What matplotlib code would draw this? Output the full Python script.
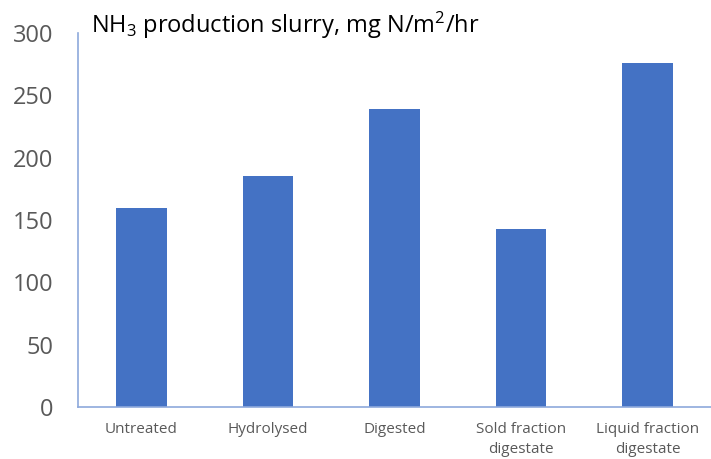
import matplotlib
matplotlib.use('Agg')
import matplotlib.pyplot as plt
import numpy as np

#data
categories = ['Untreated', 'Hydrolysed', 'Digested', 'Sold fraction\ndigestate', 'Liquid fraction\ndigestate']
nh3_values = [160, 185, 239, 143, 276]
yticks = [0, 50, 100, 150, 200, 250, 300]

plt.rcParams['font.family'] = ['Open Sans', 'DejaVu Sans']
plt.rcParams['mathtext.fontset'] = 'custom'
plt.rcParams['mathtext.rm'] = 'Open Sans'
plt.rcParams['mathtext.it'] = 'Open Sans:italic'

fig = plt.figure(figsize=(7.11, 4.59), dpi=100)
ax = fig.add_axes([0.110, 0.1133, 0.890, 0.8147])

x = np.arange(len(categories))
ax.bar(x, nh3_values, width=0.40, color='#4472C4', zorder=2)

ax.set_xlim(-0.5, len(categories) - 0.5)
ax.set_ylim(0, 300)
ax.set_yticks(yticks)
ax.set_xticks(x)
ax.set_xticklabels(categories, fontsize=11, color='#595959', linespacing=1.45)
ax.tick_params(axis='y', length=0, pad=18, labelsize=17, labelcolor='#595959')
ax.tick_params(axis='x', length=0, pad=11)

for s in ['top', 'right']:
    ax.spines[s].set_visible(False)
ax.spines['left'].set_color('#8EA9DB')
ax.spines['bottom'].set_color('#8EA9DB')
ax.spines['left'].set_linewidth(1.2)
ax.spines['bottom'].set_linewidth(1.2)

fig.text(91 / 711, 1 - 33 / 459, 'NH$_3$ production slurry, mg N/m$^2$/hr',
         fontsize=17, color='black', va='baseline', ha='left')

fig.savefig('out.png', dpi=100)
